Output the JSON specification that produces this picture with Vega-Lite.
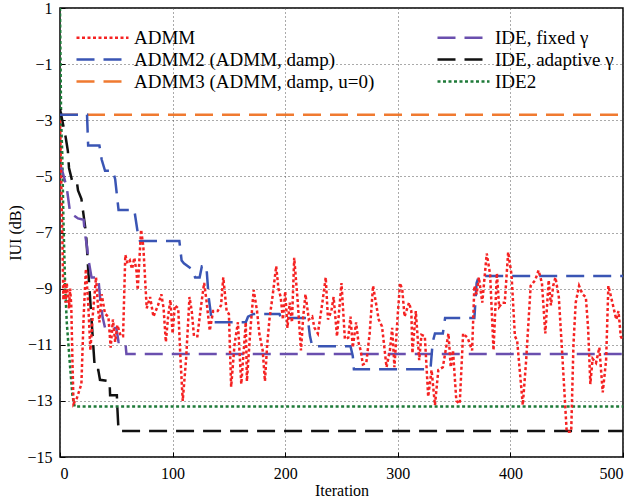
{
"$schema":"https://vega.github.io/schema/vega-lite/v6.json",
"width":563,"height":449,
"autosize":{"type":"none"},
"padding":{"left":60,"top":8,"right":14,"bottom":40},
"background":"white",
"config":{
 "font":"Liberation Serif",
 "view":{"stroke":"black","strokeWidth":1.5},
 "axis":{"domain":false,"grid":true,"gridColor":"#555","gridDash":[1,3],"gridWidth":1,"tickColor":"black","tickSize":-5,"labelFont":"Liberation Serif","labelFontSize":16,"labelColor":"black","titleFont":"Liberation Serif","titleFontSize":16,"titleFontWeight":"normal","titleColor":"black","labelPadding":13}
},
"data":{"values":[
{"s":"IDE2","x":0,"y":1},{"s":"IDE2","x":1,"y":-3},{"s":"IDE2","x":2,"y":-4.2},{"s":"IDE2","x":3,"y":-6.5},{"s":"IDE2","x":4.5,"y":-8.8},{"s":"IDE2","x":6,"y":-10.2},{"s":"IDE2","x":9,"y":-11.8},{"s":"IDE2","x":11,"y":-12.8},{"s":"IDE2","x":13,"y":-13.2},{"s":"IDE2","x":500,"y":-13.2},
{"s":"ADMM3 (ADMM, damp, u=0)","x":0,"y":-2.8},{"s":"ADMM3 (ADMM, damp, u=0)","x":500,"y":-2.8},
{"s":"IDE, adaptive γ","x":0,"y":-2.6},{"s":"IDE, adaptive γ","x":2,"y":-3.0},{"s":"IDE, adaptive γ","x":5,"y":-3.6},{"s":"IDE, adaptive γ","x":7,"y":-4.1},{"s":"IDE, adaptive γ","x":8,"y":-4.7},{"s":"IDE, adaptive γ","x":11,"y":-5.2},{"s":"IDE, adaptive γ","x":15,"y":-5.2},{"s":"IDE, adaptive γ","x":16,"y":-5.5},{"s":"IDE, adaptive γ","x":19,"y":-5.8},{"s":"IDE, adaptive γ","x":21,"y":-6.4},{"s":"IDE, adaptive γ","x":23,"y":-7.0},{"s":"IDE, adaptive γ","x":24,"y":-7.6},{"s":"IDE, adaptive γ","x":25,"y":-8.3},{"s":"IDE, adaptive γ","x":27,"y":-9.5},{"s":"IDE, adaptive γ","x":28.5,"y":-10.4},{"s":"IDE, adaptive γ","x":30,"y":-11.3},{"s":"IDE, adaptive γ","x":31,"y":-11.9},{"s":"IDE, adaptive γ","x":34,"y":-11.9},{"s":"IDE, adaptive γ","x":35.5,"y":-12.25},{"s":"IDE, adaptive γ","x":44,"y":-12.3},{"s":"IDE, adaptive γ","x":44.5,"y":-12.8},{"s":"IDE, adaptive γ","x":50.5,"y":-12.8},{"s":"IDE, adaptive γ","x":51,"y":-13.3},{"s":"IDE, adaptive γ","x":52,"y":-14.07},{"s":"IDE, adaptive γ","x":500,"y":-14.07},
{"s":"IDE, fixed γ","x":0,"y":-4.6},{"s":"IDE, fixed γ","x":2,"y":-4.8},{"s":"IDE, fixed γ","x":6,"y":-5.4},{"s":"IDE, fixed γ","x":7,"y":-5.7},{"s":"IDE, fixed γ","x":9,"y":-6.3},{"s":"IDE, fixed γ","x":16,"y":-6.5},{"s":"IDE, fixed γ","x":21,"y":-6.55},{"s":"IDE, fixed γ","x":22,"y":-7.0},{"s":"IDE, fixed γ","x":24,"y":-7.5},{"s":"IDE, fixed γ","x":25,"y":-7.9},{"s":"IDE, fixed γ","x":28,"y":-8.6},{"s":"IDE, fixed γ","x":34,"y":-8.6},{"s":"IDE, fixed γ","x":35,"y":-9.05},{"s":"IDE, fixed γ","x":36,"y":-9.5},{"s":"IDE, fixed γ","x":38,"y":-10.05},{"s":"IDE, fixed γ","x":40,"y":-10.4},{"s":"IDE, fixed γ","x":50,"y":-10.4},{"s":"IDE, fixed γ","x":51,"y":-10.65},{"s":"IDE, fixed γ","x":52,"y":-10.9},{"s":"IDE, fixed γ","x":58,"y":-10.9},{"s":"IDE, fixed γ","x":59,"y":-11.33},{"s":"IDE, fixed γ","x":500,"y":-11.33},
{"s":"ADMM2 (ADMM, damp)","x":0,"y":-2.8},{"s":"ADMM2 (ADMM, damp)","x":24,"y":-2.8},{"s":"ADMM2 (ADMM, damp)","x":25,"y":-3.9},{"s":"ADMM2 (ADMM, damp)","x":35,"y":-3.9},{"s":"ADMM2 (ADMM, damp)","x":37,"y":-4.4},{"s":"ADMM2 (ADMM, damp)","x":40,"y":-4.8},{"s":"ADMM2 (ADMM, damp)","x":47,"y":-4.8},{"s":"ADMM2 (ADMM, damp)","x":49,"y":-5.1},{"s":"ADMM2 (ADMM, damp)","x":52,"y":-6.2},{"s":"ADMM2 (ADMM, damp)","x":66,"y":-6.2},{"s":"ADMM2 (ADMM, damp)","x":69,"y":-7.0},{"s":"ADMM2 (ADMM, damp)","x":71,"y":-7.3},{"s":"ADMM2 (ADMM, damp)","x":106,"y":-7.3},{"s":"ADMM2 (ADMM, damp)","x":108,"y":-8.0},{"s":"ADMM2 (ADMM, damp)","x":110,"y":-8.1},{"s":"ADMM2 (ADMM, damp)","x":117,"y":-8.3},{"s":"ADMM2 (ADMM, damp)","x":120,"y":-8.6},{"s":"ADMM2 (ADMM, damp)","x":124,"y":-8.6},{"s":"ADMM2 (ADMM, damp)","x":126,"y":-8.2},{"s":"ADMM2 (ADMM, damp)","x":130,"y":-8.2},{"s":"ADMM2 (ADMM, damp)","x":132,"y":-9.3},{"s":"ADMM2 (ADMM, damp)","x":135,"y":-10.2},{"s":"ADMM2 (ADMM, damp)","x":165,"y":-10.2},{"s":"ADMM2 (ADMM, damp)","x":167,"y":-10.0},{"s":"ADMM2 (ADMM, damp)","x":172,"y":-9.9},{"s":"ADMM2 (ADMM, damp)","x":195,"y":-9.9},{"s":"ADMM2 (ADMM, damp)","x":196,"y":-10.05},{"s":"ADMM2 (ADMM, damp)","x":220,"y":-10.05},{"s":"ADMM2 (ADMM, damp)","x":222,"y":-10.7},{"s":"ADMM2 (ADMM, damp)","x":224,"y":-11.05},{"s":"ADMM2 (ADMM, damp)","x":258,"y":-11.05},{"s":"ADMM2 (ADMM, damp)","x":260,"y":-11.4},{"s":"ADMM2 (ADMM, damp)","x":261,"y":-11.87},{"s":"ADMM2 (ADMM, damp)","x":329,"y":-11.87},{"s":"ADMM2 (ADMM, damp)","x":331,"y":-10.9},{"s":"ADMM2 (ADMM, damp)","x":333,"y":-10.6},{"s":"ADMM2 (ADMM, damp)","x":340,"y":-10.6},{"s":"ADMM2 (ADMM, damp)","x":342,"y":-10.05},{"s":"ADMM2 (ADMM, damp)","x":368,"y":-10.05},{"s":"ADMM2 (ADMM, damp)","x":370,"y":-8.8},{"s":"ADMM2 (ADMM, damp)","x":372,"y":-8.55},{"s":"ADMM2 (ADMM, damp)","x":500,"y":-8.55},
{"s":"ADMM","x":0,"y":-3.0},{"s":"ADMM","x":1,"y":-5.0},{"s":"ADMM","x":2,"y":-7.0},{"s":"ADMM","x":3,"y":-9.4},{"s":"ADMM","x":4,"y":-8.7},{"s":"ADMM","x":5,"y":-9.5},{"s":"ADMM","x":6,"y":-8.8},{"s":"ADMM","x":8,"y":-9.7},{"s":"ADMM","x":9,"y":-9.0},{"s":"ADMM","x":10,"y":-9.6},{"s":"ADMM","x":11,"y":-11.5},{"s":"ADMM","x":12,"y":-13.1},{"s":"ADMM","x":15,"y":-12.9},{"s":"ADMM","x":19,"y":-12.4},{"s":"ADMM","x":21,"y":-10},{"s":"ADMM","x":23,"y":-8.3},{"s":"ADMM","x":25,"y":-9.5},{"s":"ADMM","x":27,"y":-11.2},{"s":"ADMM","x":29,"y":-10},{"s":"ADMM","x":32,"y":-8.6},{"s":"ADMM","x":34,"y":-9.8},{"s":"ADMM","x":35,"y":-10.2},{"s":"ADMM","x":37,"y":-9.2},{"s":"ADMM","x":40,"y":-9.9},{"s":"ADMM","x":43,"y":-10},{"s":"ADMM","x":45,"y":-11.1},{"s":"ADMM","x":47,"y":-10.1},{"s":"ADMM","x":49,"y":-10.9},{"s":"ADMM","x":51,"y":-10.3},{"s":"ADMM","x":54,"y":-10.7},{"s":"ADMM","x":56,"y":-10.7},{"s":"ADMM","x":58,"y":-7.8},{"s":"ADMM","x":60,"y":-8.1},{"s":"ADMM","x":62,"y":-8.0},{"s":"ADMM","x":64,"y":-8.3},{"s":"ADMM","x":66,"y":-7.9},{"s":"ADMM","x":68,"y":-8.4},{"s":"ADMM","x":69,"y":-9.05},{"s":"ADMM","x":72,"y":-6.9},{"s":"ADMM","x":74,"y":-7.5},{"s":"ADMM","x":77,"y":-9.7},{"s":"ADMM","x":80,"y":-9.3},{"s":"ADMM","x":83,"y":-10.0},{"s":"ADMM","x":87,"y":-9.6},{"s":"ADMM","x":90,"y":-9.2},{"s":"ADMM","x":92,"y":-9.7},{"s":"ADMM","x":94,"y":-10.9},{"s":"ADMM","x":96,"y":-10.0},{"s":"ADMM","x":98,"y":-9.4},{"s":"ADMM","x":100,"y":-10.6},{"s":"ADMM","x":102,"y":-9.6},{"s":"ADMM","x":105,"y":-9.7},{"s":"ADMM","x":107,"y":-11.5},{"s":"ADMM","x":109,"y":-13.0},{"s":"ADMM","x":112,"y":-11.5},{"s":"ADMM","x":115,"y":-9.3},{"s":"ADMM","x":117,"y":-9.8},{"s":"ADMM","x":119,"y":-10.7},{"s":"ADMM","x":122,"y":-10.7},{"s":"ADMM","x":125,"y":-9.7},{"s":"ADMM","x":128,"y":-8.8},{"s":"ADMM","x":130,"y":-9.4},{"s":"ADMM","x":133,"y":-10.5},{"s":"ADMM","x":136,"y":-9.8},{"s":"ADMM","x":140,"y":-9.8},{"s":"ADMM","x":143,"y":-9.6},{"s":"ADMM","x":145,"y":-8.6},{"s":"ADMM","x":148,"y":-9.8},{"s":"ADMM","x":150,"y":-9.9},{"s":"ADMM","x":152,"y":-12.5},{"s":"ADMM","x":155,"y":-11.0},{"s":"ADMM","x":158,"y":-10.2},{"s":"ADMM","x":161,"y":-12.4},{"s":"ADMM","x":165,"y":-10.2},{"s":"ADMM","x":166,"y":-12.3},{"s":"ADMM","x":169,"y":-10.5},{"s":"ADMM","x":172,"y":-9.05},{"s":"ADMM","x":175,"y":-9.8},{"s":"ADMM","x":177,"y":-10.6},{"s":"ADMM","x":180,"y":-11.2},{"s":"ADMM","x":182,"y":-12.3},{"s":"ADMM","x":184,"y":-11.0},{"s":"ADMM","x":186,"y":-10.1},{"s":"ADMM","x":189,"y":-9.2},{"s":"ADMM","x":192,"y":-8.2},{"s":"ADMM","x":194,"y":-9.0},{"s":"ADMM","x":196,"y":-9.3},{"s":"ADMM","x":198,"y":-10.1},{"s":"ADMM","x":200,"y":-9.1},{"s":"ADMM","x":202,"y":-10.4},{"s":"ADMM","x":204,"y":-9.5},{"s":"ADMM","x":206,"y":-10.2},{"s":"ADMM","x":208,"y":-7.9},{"s":"ADMM","x":211,"y":-9.4},{"s":"ADMM","x":214,"y":-11.2},{"s":"ADMM","x":216,"y":-10.0},{"s":"ADMM","x":218,"y":-9.2},{"s":"ADMM","x":221,"y":-10.1},{"s":"ADMM","x":224,"y":-10.0},{"s":"ADMM","x":226,"y":-10.4},{"s":"ADMM","x":229,"y":-10.6},{"s":"ADMM","x":233,"y":-9.5},{"s":"ADMM","x":236,"y":-8.6},{"s":"ADMM","x":238,"y":-10.1},{"s":"ADMM","x":241,"y":-9.8},{"s":"ADMM","x":243,"y":-9.3},{"s":"ADMM","x":246,"y":-10.7},{"s":"ADMM","x":250,"y":-8.8},{"s":"ADMM","x":253,"y":-10.8},{"s":"ADMM","x":256,"y":-10.75},{"s":"ADMM","x":258,"y":-10.0},{"s":"ADMM","x":260,"y":-11.1},{"s":"ADMM","x":263,"y":-10.2},{"s":"ADMM","x":265,"y":-10.9},{"s":"ADMM","x":267,"y":-11.2},{"s":"ADMM","x":269,"y":-11.7},{"s":"ADMM","x":272,"y":-11.65},{"s":"ADMM","x":275,"y":-10.6},{"s":"ADMM","x":278,"y":-8.9},{"s":"ADMM","x":281,"y":-9.6},{"s":"ADMM","x":283,"y":-10.1},{"s":"ADMM","x":286,"y":-10.35},{"s":"ADMM","x":290,"y":-11.8},{"s":"ADMM","x":293,"y":-11.2},{"s":"ADMM","x":295,"y":-10.4},{"s":"ADMM","x":297,"y":-11.8},{"s":"ADMM","x":300,"y":-9.9},{"s":"ADMM","x":302,"y":-8.8},{"s":"ADMM","x":304,"y":-9.05},{"s":"ADMM","x":306,"y":-10.0},{"s":"ADMM","x":310,"y":-9.5},{"s":"ADMM","x":312,"y":-9.8},{"s":"ADMM","x":313,"y":-11.3},{"s":"ADMM","x":316,"y":-9.8},{"s":"ADMM","x":319,"y":-11.55},{"s":"ADMM","x":321,"y":-10.65},{"s":"ADMM","x":324,"y":-10.7},{"s":"ADMM","x":327,"y":-12.85},{"s":"ADMM","x":330,"y":-11.9},{"s":"ADMM","x":333,"y":-13.15},{"s":"ADMM","x":336,"y":-11.9},{"s":"ADMM","x":340,"y":-11.8},{"s":"ADMM","x":345,"y":-10.6},{"s":"ADMM","x":347,"y":-11.8},{"s":"ADMM","x":349,"y":-11.2},{"s":"ADMM","x":352,"y":-13.0},{"s":"ADMM","x":355,"y":-13.1},{"s":"ADMM","x":358,"y":-10.6},{"s":"ADMM","x":362,"y":-10.75},{"s":"ADMM","x":366,"y":-11.2},{"s":"ADMM","x":368,"y":-8.9},{"s":"ADMM","x":370,"y":-9.2},{"s":"ADMM","x":372,"y":-8.6},{"s":"ADMM","x":375,"y":-9.5},{"s":"ADMM","x":379,"y":-7.75},{"s":"ADMM","x":382,"y":-8.5},{"s":"ADMM","x":385,"y":-11.2},{"s":"ADMM","x":388,"y":-8.45},{"s":"ADMM","x":390,"y":-9.65},{"s":"ADMM","x":393,"y":-9.5},{"s":"ADMM","x":395,"y":-9.5},{"s":"ADMM","x":398,"y":-7.7},{"s":"ADMM","x":401,"y":-8.5},{"s":"ADMM","x":404,"y":-10.7},{"s":"ADMM","x":406,"y":-10.85},{"s":"ADMM","x":411,"y":-13.15},{"s":"ADMM","x":414,"y":-11.55},{"s":"ADMM","x":418,"y":-8.9},{"s":"ADMM","x":422,"y":-8.7},{"s":"ADMM","x":425,"y":-8.35},{"s":"ADMM","x":428,"y":-8.8},{"s":"ADMM","x":431,"y":-10.6},{"s":"ADMM","x":434,"y":-8.7},{"s":"ADMM","x":436,"y":-9.6},{"s":"ADMM","x":438,"y":-8.9},{"s":"ADMM","x":440,"y":-8.6},{"s":"ADMM","x":443,"y":-9.3},{"s":"ADMM","x":446,"y":-11.3},{"s":"ADMM","x":450,"y":-14.1},{"s":"ADMM","x":454,"y":-14.1},{"s":"ADMM","x":456,"y":-11.0},{"s":"ADMM","x":458,"y":-9.5},{"s":"ADMM","x":461,"y":-8.9},{"s":"ADMM","x":464,"y":-9.2},{"s":"ADMM","x":467,"y":-9.3},{"s":"ADMM","x":469,"y":-10.4},{"s":"ADMM","x":471,"y":-12.4},{"s":"ADMM","x":473,"y":-11.5},{"s":"ADMM","x":476,"y":-11.65},{"s":"ADMM","x":479,"y":-11.1},{"s":"ADMM","x":482,"y":-12.7},{"s":"ADMM","x":485,"y":-11.55},{"s":"ADMM","x":487,"y":-8.9},{"s":"ADMM","x":490,"y":-9.4},{"s":"ADMM","x":494,"y":-10.1},{"s":"ADMM","x":496,"y":-9.8},{"s":"ADMM","x":498,"y":-10.7},{"s":"ADMM","x":500,"y":-10.85}
]},
"mark":{"type":"line","strokeWidth":2.5,"clip":true},
"encoding":{
 "x":{"field":"x","type":"quantitative","scale":{"domain":[0,500],"nice":false},"axis":{"values":[0,100,200,300,400,500],"title":"Iteration","titlePadding":1}},
 "y":{"field":"y","type":"quantitative","scale":{"domain":[-15,1],"nice":false,"zero":false},"axis":{"values":[1,-1,-3,-5,-7,-9,-11,-13,-15],"title":"IUI (dB)","titlePadding":3}},
 "color":{"field":"s","type":"nominal","scale":{"domain":["ADMM","ADMM2 (ADMM, damp)","ADMM3 (ADMM, damp, u=0)","IDE, fixed γ","IDE, adaptive γ","IDE2"],"range":["#f52222","#3a55b4","#f07a30","#6a4fae","#111111","#1e7a38"]},
   "legend":{"title":null,"orient":"none","legendX":31,"legendY":18,"columns":2,"columnPadding":57,"rowPadding":-3,"symbolType":"M-2.6,0H2.6","symbolSize":400,"symbolStrokeWidth":2.5,"labelFont":"Liberation Serif","labelFontSize":19,"labelColor":"black","labelOffset":20,"labelLimit":400}},
 "strokeDash":{"field":"s","type":"nominal","scale":{"domain":["ADMM","ADMM2 (ADMM, damp)","ADMM3 (ADMM, damp, u=0)","IDE, fixed γ","IDE, adaptive γ","IDE2"],"range":[[3,2.5],[18,9],[18,9],[18,9],[18,9],[3,2.5]]},
   "legend":{"title":null,"orient":"none","legendX":31,"legendY":18,"columns":2,"columnPadding":57,"rowPadding":-3,"symbolType":"M-2.6,0H2.6","symbolSize":400,"symbolStrokeWidth":2.5,"labelFont":"Liberation Serif","labelFontSize":19,"labelColor":"black","labelOffset":20,"labelLimit":400}}
}
}
